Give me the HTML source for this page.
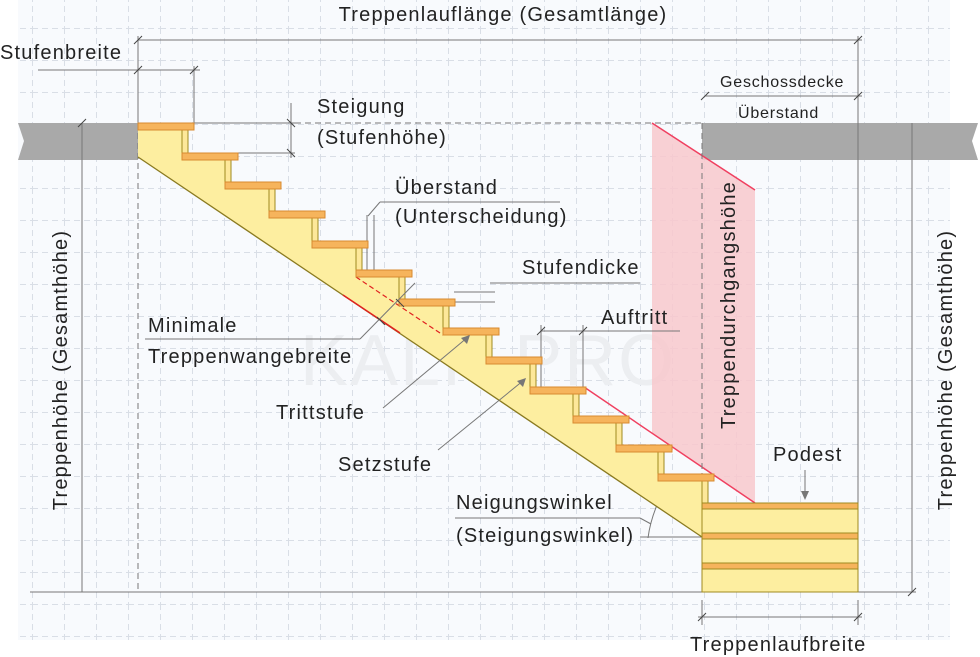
<!DOCTYPE html>
<html><head><meta charset="utf-8"><style>
html,body{margin:0;padding:0;background:#fff;}
svg{display:block;}
text{font-family:"Liberation Sans","DejaVu Sans",sans-serif;fill:#222;font-size:20px;letter-spacing:1.2px;}
</style></head><body>
<svg width="980" height="657" viewBox="0 0 980 657" xmlns="http://www.w3.org/2000/svg">
<defs>
<pattern id="g" x="0" y="28" width="32" height="32" patternUnits="userSpaceOnUse">
<path d="M0 0.5H32 M0.5 0V32" stroke="#d9dee6" stroke-width="1" stroke-dasharray="6 4" fill="none"/>
</pattern>
</defs>
<rect x="18" y="0" width="932" height="640" fill="#f8fafd"/>
<rect x="18" y="0" width="932" height="640" fill="url(#g)"/>
<text x="300" y="385" style="font-size:72px;fill:#eceef1;letter-spacing:2px">KALK.PRO</text>

<path d="M18 123 H138 V160 H18 L24 141 Z" fill="#a9a9a9"/>
<path d="M702 123 H978 L972 141 L978 160 H702 Z" fill="#a9a9a9"/>

<path d="M652 123 L755 190 V503 L652 433 Z" fill="#f8c8cc" opacity="0.85"/>
<line x1="652" y1="123" x2="755" y2="190" stroke="#f04060" stroke-width="1.5"/>
<line x1="584" y1="387" x2="755" y2="503" stroke="#f04060" stroke-width="1.5"/>

<g stroke="#777" stroke-width="1" fill="none">
<line x1="138" y1="40" x2="862" y2="40"/>
<line x1="138" y1="36" x2="138" y2="123"/>
<line x1="858" y1="36" x2="858" y2="592"/>
<line x1="38" y1="70" x2="200" y2="70"/>
<line x1="194" y1="66" x2="194" y2="123"/>
<line x1="82" y1="123" x2="82" y2="592"/>
<line x1="912" y1="123" x2="912" y2="592"/>
<line x1="30" y1="592" x2="916" y2="592"/>
<line x1="194" y1="123" x2="295" y2="123"/>
<line x1="238" y1="153" x2="295" y2="153"/>
<line x1="291" y1="103" x2="291" y2="158"/>
<line x1="705" y1="96" x2="862" y2="96"/>
<line x1="367" y1="215" x2="367" y2="270"/>
<line x1="374" y1="215" x2="374" y2="270"/>
<line x1="380" y1="202" x2="560" y2="202"/>
<line x1="380" y1="202" x2="368" y2="216"/>
<line x1="454" y1="292" x2="495" y2="292"/>
<line x1="454" y1="302" x2="495" y2="302"/>
<line x1="490" y1="283" x2="640" y2="283"/>
<line x1="541" y1="331" x2="680" y2="331"/>
<line x1="541" y1="325" x2="541" y2="387"/>
<line x1="583" y1="325" x2="583" y2="387"/>
<line x1="145" y1="339" x2="360" y2="339"/>
<line x1="455" y1="518" x2="640" y2="518"/>
<line x1="640" y1="518" x2="651" y2="524"/>
<line x1="640" y1="537" x2="702" y2="537"/>
<path d="M657 505 Q650 522 648 538"/>
<line x1="805" y1="470" x2="805" y2="497"/>
<line x1="702" y1="600" x2="702" y2="625"/>
<line x1="858" y1="600" x2="858" y2="625"/>
<line x1="698" y1="617" x2="862" y2="617"/>
</g>
<g fill="#777"><path d="M805 500 l-4 -9 h8z"/></g>
<g stroke="#444" stroke-width="1">
<line x1="134" y1="44" x2="142" y2="36"/><line x1="854" y1="44" x2="862" y2="36"/>
<line x1="134" y1="74" x2="142" y2="66"/><line x1="190" y1="74" x2="198" y2="66"/>
<line x1="287" y1="119" x2="295" y2="127"/><line x1="287" y1="149" x2="295" y2="157"/>
<line x1="701" y1="100" x2="709" y2="92"/><line x1="854" y1="100" x2="862" y2="92"/>
<line x1="537" y1="335" x2="545" y2="327"/><line x1="579" y1="335" x2="587" y2="327"/>
<line x1="698" y1="621" x2="706" y2="613"/><line x1="854" y1="621" x2="862" y2="613"/>
<line x1="908" y1="596" x2="916" y2="588"/><line x1="78" y1="127" x2="86" y2="119"/>
</g>
<g stroke="#777" stroke-dasharray="6 4" fill="none">
<line x1="138" y1="123" x2="138" y2="592"/>
<line x1="702" y1="123" x2="702" y2="592"/>
<line x1="295" y1="123" x2="702" y2="123"/>
</g>

<path d="M138 130 H182 V160 H225 V189 H269 V218 H312 V248 H356 V277 H399 V306 H443 V335 H486 V364 H530 V394 H573 V423 H616 V452 H658 V481 H702 V537 L138 157 Z" fill="#fdeea0"/>
<line x1="138" y1="157" x2="702" y2="537" stroke="#8a7a20" stroke-width="1.3"/>
<line x1="343" y1="295" x2="400" y2="333" stroke="#e02020" stroke-width="1.5"/>
<line x1="356" y1="277" x2="443" y2="335" stroke="#e02020" stroke-width="1.2" stroke-dasharray="5 3"/>

<g fill="#fde89a" stroke="#a08a20" stroke-width="1">
<rect x="182" y="130" width="6" height="23"/><rect x="225" y="160" width="6" height="22"/>
<rect x="269" y="189" width="6" height="22"/><rect x="312" y="218" width="6" height="23"/>
<rect x="356" y="248" width="6" height="22"/><rect x="399" y="277" width="6" height="22"/>
<rect x="443" y="306" width="6" height="22"/><rect x="486" y="335" width="6" height="22"/>
<rect x="530" y="364" width="6" height="23"/><rect x="573" y="394" width="6" height="22"/>
<rect x="616" y="423" width="6" height="22"/><rect x="658" y="452" width="6" height="22"/>
<rect x="702" y="481" width="6" height="22"/>
</g>
<g fill="#f6b45c" stroke="#d88a30" stroke-width="1">
<rect x="138" y="123" width="56" height="7"/><rect x="182" y="153" width="56" height="7"/>
<rect x="225" y="182" width="56" height="7"/><rect x="269" y="211" width="56" height="7"/>
<rect x="312" y="241" width="56" height="7"/><rect x="356" y="270" width="56" height="7"/>
<rect x="399" y="299" width="56" height="7"/><rect x="443" y="328" width="56" height="7"/>
<rect x="486" y="357" width="56" height="7"/><rect x="530" y="387" width="56" height="7"/>
<rect x="573" y="416" width="56" height="7"/><rect x="616" y="445" width="56" height="7"/>
<rect x="658" y="474" width="56" height="7"/>
</g>
<g stroke="#a08a20" stroke-width="1">
<rect x="702" y="503" width="156" height="89" fill="#fdeea0"/>
<rect x="702" y="503" width="156" height="6" fill="#f6b45c"/>
<rect x="702" y="533" width="156" height="6" fill="#f6b45c"/>
<rect x="702" y="563" width="156" height="6" fill="#f6b45c"/>
</g>

<!-- leaders over stringer -->
<g stroke="#777" stroke-width="1" fill="none">
<line x1="360" y1="339" x2="415" y2="283"/>
<line x1="383" y1="408" x2="468" y2="337"/>
<line x1="438" y1="450" x2="524" y2="380"/>
</g>
<g fill="#777"><path d="M470 335 l-3 9 l-6 -6z"/><path d="M526 378 l-3 9 l-6 -6z"/></g>
<g stroke="#444" stroke-width="1">
<line x1="396" y1="299" x2="404" y2="307"/><line x1="377" y1="317" x2="385" y2="325"/>
</g>

<text x="503" y="21" text-anchor="middle">Treppenlauflänge (Gesamtlänge)</text>
<text x="0" y="59">Stufenbreite</text>
<text x="317" y="113">Steigung</text>
<text x="317" y="144">(Stufenhöhe)</text>
<text x="395" y="194">Überstand</text>
<text x="395" y="223">(Unterscheidung)</text>
<text x="522" y="274">Stufendicke</text>
<text x="601" y="324">Auftritt</text>
<text x="148" y="332">Minimale</text>
<text x="148" y="363">Treppenwangebreite</text>
<text x="276" y="419">Trittstufe</text>
<text x="338" y="471">Setzstufe</text>
<text x="456" y="509">Neigungswinkel</text>
<text x="456" y="542">(Steigungswinkel)</text>
<text x="773" y="461">Podest</text>
<text x="720" y="87" style="font-size:16px;letter-spacing:0.8px">Geschossdecke</text>
<text x="738" y="118" style="font-size:16px;letter-spacing:0.8px">Überstand</text>
<text x="690" y="651">Treppenlaufbreite</text>
<text transform="translate(67,370) rotate(-90)" text-anchor="middle">Treppenhöhe (Gesamthöhe)</text>
<text transform="translate(952,370) rotate(-90)" text-anchor="middle">Treppenhöhe (Gesamthöhe)</text>
<text transform="translate(735,305) rotate(-90)" text-anchor="middle">Treppendurchgangshöhe</text>
</svg>
</body></html>
